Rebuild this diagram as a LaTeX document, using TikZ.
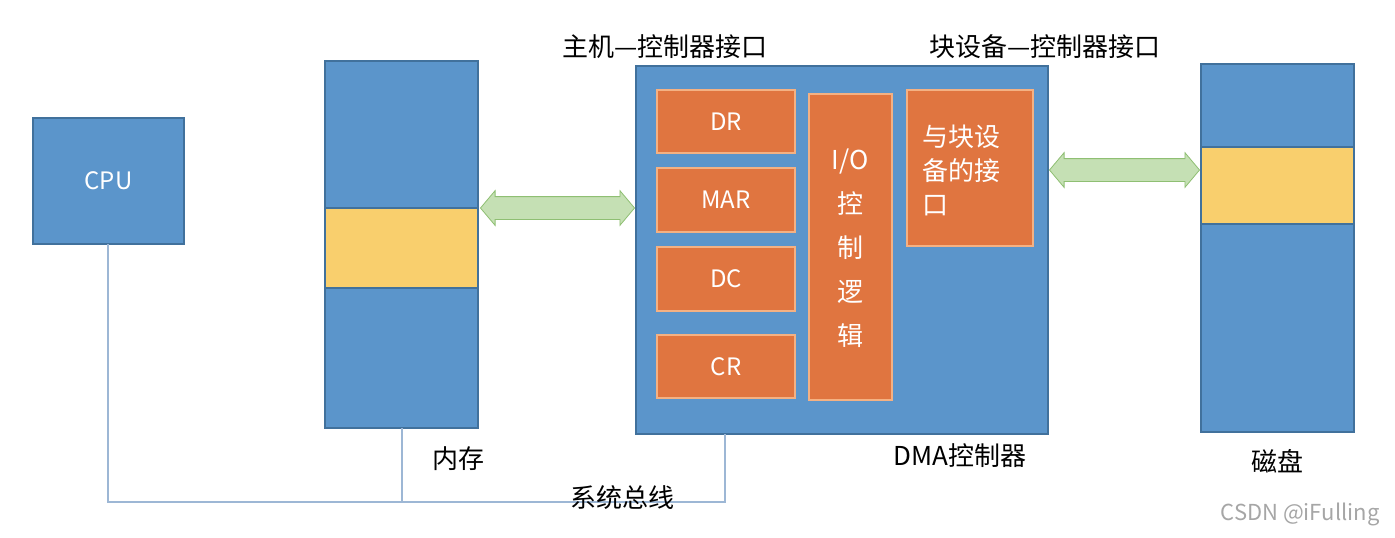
\documentclass[tikz,border=0pt]{standalone}
\usepackage{fontspec}
\setmainfont{Noto Sans CJK SC}
\usetikzlibrary{shapes.arrows}
\definecolor{blu}{HTML}{5B95CB}
\definecolor{bluline}{HTML}{41719C}
\definecolor{org}{HTML}{E07540}
\definecolor{orgline}{HTML}{F4B183}
\definecolor{yel}{HTML}{F9CF6D}
\definecolor{grn}{HTML}{C5E0B4}
\definecolor{grnline}{HTML}{8FBF73}
\definecolor{bus}{HTML}{9DB7D5}
\begin{document}
\begin{tikzpicture}[x=0.5pt,y=-0.5pt]
 \tikzstyle{bbox} = [draw=bluline,fill=blu,line width=0.6pt];
 \tikzstyle{obox} = [draw=orgline,fill=org,line width=0.6pt];
 \tikzstyle{ybox} = [draw=bluline,fill=yel,line width=0.6pt];
 \tikzstyle{lbl}  = [font=\fontsize{12}{14}\selectfont,text=white];
 \tikzstyle{capt} = [font=\fontsize{13}{15}\selectfont];
 \tikzstyle{dbl}  = [double arrow,draw=grnline,fill=grn,text width=0pt,
                     text height=0pt,text depth=0pt,inner xsep=0pt,inner ysep=5.5pt,
                     double arrow head extend=3pt,double arrow tip angle=100];
 \tikzstyle{busline} = [draw=bus,line width=0.8pt];
 \useasboundingbox (0,0) rectangle (1395,537);

 %% boxes
 \draw[bbox] (33,118) rectangle (184,244) node[midway,lbl] (cpu) {CPU};
 \draw[bbox] (325,61) rectangle (478,428);
 \draw[ybox] (325,208) rectangle (478,288);
 \draw[bbox] (636,66) rectangle (1048,434);
 \draw[bbox] (1201,64) rectangle (1354,432);
 \draw[ybox] (1201,147) rectangle (1354,224);

 %% registers
 \draw[obox] (657,90) rectangle (795,153) node[midway,lbl] (dr) {DR};
 \draw[obox] (657,168) rectangle (795,232) node[midway,lbl] (mar) {MAR};
 \draw[obox] (657,247) rectangle (795,311) node[midway,lbl] (dc) {DC};
 \draw[obox] (657,335) rectangle (795,398) node[midway,lbl] (cr) {CR};
 \draw[obox] (809,94) rectangle (892,400);
 \node[lbl,align=center,font=\fontsize{13}{22}\selectfont] (io) at (850,248) {I/O\\控\\制\\逻\\辑};
 \draw[obox] (907,90) rectangle (1033,246);
 \node[lbl,align=left,font=\fontsize{13}{17}\selectfont] (ifc) at (961,170) {与块设\\备的接\\口};

 %% arrows
 \coordinate (m1) at (480,208); \coordinate (d1) at (635,208);
 \coordinate (d2) at (1049,170); \coordinate (k1) at (1200,170);
 \path (m1) -- (d1) node[midway,dbl,minimum height=77pt] (a1) {};
 \path (d2) -- (k1) node[midway,dbl,minimum height=75pt] (a2) {};

 %% bus
 \coordinate (c0) at (108,244); \coordinate (b0) at (108,502);
 \coordinate (m0) at (402,428); \coordinate (b1) at (402,502);
 \coordinate (x0) at (725,434); \coordinate (b2) at (725,502);
 \draw[busline] (c0) -- (b0) -- (b2) -- (x0);
 \draw[busline] (m0) -- (b1);

 %% captions
 \node[capt] (t1) at (665,47) {主机—控制器接口};
 \node[capt] (t2) at (1045,47) {块设备—控制器接口};
 \node[capt] (t3) at (458,459) {内存};
 \node[capt] (t4) at (960,456) {DMA控制器};
 \node[capt] (t5) at (1277,461) {磁盘};
 \node[capt] (t6) at (622,498) {系统总线};
 \node[capt,text=black!35,font=\fontsize{11}{13}\selectfont] (t7) at (1300,514) {CSDN @iFulling};
\end{tikzpicture}
\end{document}
